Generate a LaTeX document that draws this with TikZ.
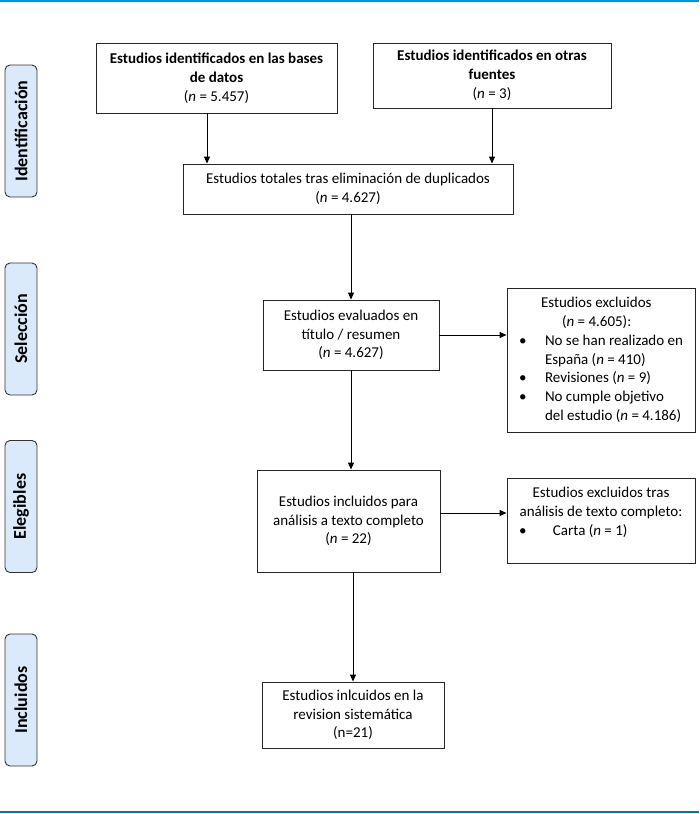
\documentclass[tikz,border=0pt]{standalone}
\usepackage{fontspec}
\setmainfont{Carlito}
\usetikzlibrary{arrows.meta}
\definecolor{stageblue}{RGB}{218,234,250}
\definecolor{rulecolor}{RGB}{0,150,210}
\newcommand\itm{\makebox[26pt][l]{\textbullet}}
\newcommand\ind{\hspace*{26pt}}
\newcommand\lline[1]{\makebox[164pt][l]{#1}}
\begin{document}
\begin{tikzpicture}[
    x=1pt, y=-1pt,
    box/.style={rectangle, draw=black!85, line width=0.9pt, align=center, inner sep=4pt, font=\fontsize{15}{18.8}\selectfont},
    stage/.style={rectangle, draw=black!80, line width=0.9pt, rounded corners=5pt, fill=stageblue, rotate=90, minimum width=132pt, minimum height=32pt, font=\fontsize{18}{20}\selectfont\bfseries},
    arrow/.style={-{Triangle[length=7pt,width=6pt]}, line width=0.9pt}
]
\useasboundingbox (0,0) rectangle (699,814);
\draw[rulecolor, line width=2pt] (0,1) -- (699,1);
\draw[rulecolor!80!black, line width=1.5pt] (0,812) -- (699,812);

% Stages
\node[stage] (sid) at (21,131) {Identificación};
\node[stage] (ssel) at (21,329) {Selección};
\node[stage] (seleg) at (21,506.5) {Elegibles};
\node[stage] (sinc) at (21,700) {Incluidos};

% Identification
\node[box, minimum width=241pt, minimum height=70pt] (bases) at (216.5,78) {\textbf{Estudios identificados en las bases}\\ \textbf{de datos}\\ (\textit{n} = 5.457)};
\node[box, minimum width=238pt, minimum height=65pt] (otras) at (492,75.5) {\textbf{Estudios identificados en otras}\\ \textbf{fuentes}\\ (\textit{n} = 3)};
\node[box, minimum width=330pt, minimum height=50pt] (dupl) at (348,189) {Estudios totales tras eliminación de duplicados\\ (\textit{n} = 4.627)};

% Screening
\node[box, minimum width=176pt, minimum height=70pt] (eval) at (351,335) {Estudios evaluados en\\ título / resumen\\ (\textit{n} = 4.627)};
\node[box, inner xsep=12pt, minimum width=188pt, minimum height=144pt] (excl) at (601,360) {\lline{\hspace*{22pt}Estudios excluidos}\\ \lline{\hspace*{43pt}(\textit{n} = 4.605):}\\ \lline{\itm No se han realizado en}\\ \lline{\ind España (\textit{n} = 410)}\\ \lline{\itm Revisiones (\textit{n} = 9)}\\ \lline{\itm No cumple objetivo}\\ \lline{\ind del estudio (\textit{n} = 4.186)}};

% Eligibility
\node[box, inner xsep=6pt, minimum width=183pt, minimum height=102pt] (incl) at (348.5,521) {Estudios incluidos para\\ análisis a texto completo\\ (\textit{n} = 22)};
\node[box, inner xsep=6pt, minimum width=188pt, minimum height=85pt] (excltxt) at (601,520.5) {Estudios excluidos tras\\ análisis de texto completo:\\ \makebox[176pt][l]{\hspace*{6pt}\makebox[34pt][l]{\textbullet}Carta (\textit{n} = 1)}\\ \mbox{}};

% Included
\node[box, minimum width=182pt, minimum height=66pt] (final) at (353,715) {Estudios inlcuidos en la\\ revision sistemática\\ (n=21)};

% Arrows
\draw[arrow] ([xshift=-9.5pt]bases.south) -- ([xshift=-9.5pt]bases.south |- dupl.north);
\draw[arrow] (otras.south) -- (otras.south |- dupl.north);
\draw[arrow] (dupl.south -| eval.north) -- (eval.north);
\draw[arrow] (eval.east) -- (eval.east -| excl.west);
\draw[arrow] (eval.south) -- (eval.south |- incl.north);
\draw[arrow] ([yshift=8pt]incl.east) -- ([yshift=8pt]incl.east -| excltxt.west);
\draw[arrow] (final.north |- incl.south) -- (final.north);
\end{tikzpicture}
\end{document}
